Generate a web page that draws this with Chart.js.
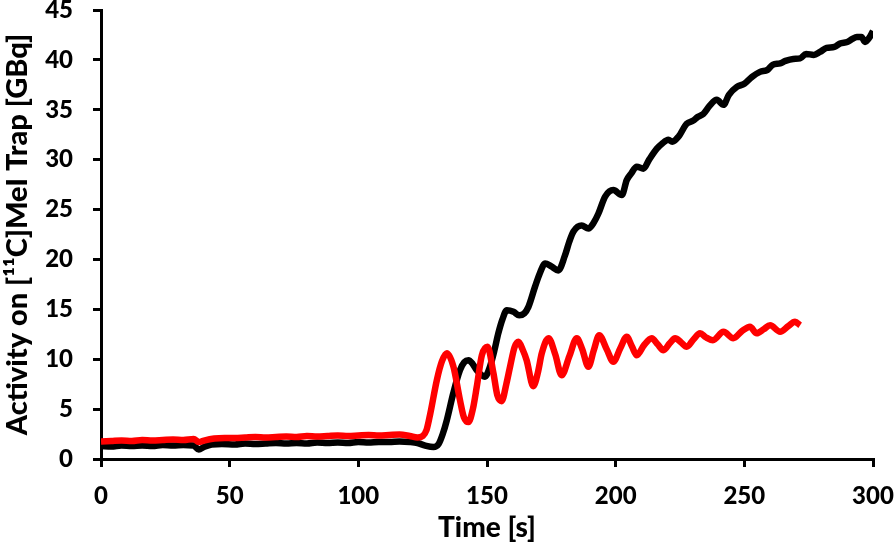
<!DOCTYPE html>
<html>
<head>
<meta charset="utf-8">
<script src="https://cdn.jsdelivr.net/npm/chart.js@4.4.1/dist/chart.umd.min.js"></script>
<style>
  html, body { margin: 0; padding: 0; background: #fff; }
  canvas { display: block; }
</style>
</head>
<body>
<canvas id="trapChart" width="895" height="545"></canvas>
<script>
// red trace - time [s] and activity [GBq]
const redTime = [0, 4, 8, 12, 16, 20, 24, 28, 32, 36, 38, 40, 44, 48, 52, 56, 60, 64, 68, 72, 76, 80, 84, 88, 92, 96, 100, 104, 108, 112, 116, 120, 123, 125, 126.5, 128, 130.5, 132.5, 134.4, 136.9, 139.5, 141, 142.8, 144.5, 146, 148, 150.2, 152.5, 154, 155.7, 157.5, 159, 160.7, 162.2, 163.8, 165.4, 168, 169.8, 171.3, 173.9, 176.5, 179, 182, 184.9, 187, 189.4, 191.5, 193.6, 196.5, 199.1, 201.8, 204.3, 206.3, 208.2, 211, 214, 216.3, 218.6, 221, 223.1, 225.4, 227.6, 230.3, 232.8, 235, 237.8, 241.9, 245.7, 249, 252.2, 254.8, 257.5, 260, 263.9, 267, 269.7, 271.7];
const redActivity = [1.75, 1.8, 1.85, 1.8, 1.9, 1.85, 1.9, 1.95, 1.9, 2.0, 1.7, 1.85, 2.05, 2.1, 2.1, 2.15, 2.2, 2.15, 2.2, 2.25, 2.2, 2.3, 2.25, 2.3, 2.35, 2.3, 2.35, 2.4, 2.35, 2.4, 2.45, 2.3, 2.15, 2.3, 2.9, 4.6, 7.9, 9.8, 10.6, 9.3, 5.9, 4.2, 3.7, 5.0, 7.2, 10.4, 11.25, 8.6, 6.4, 5.8, 7.5, 9.3, 11.2, 11.75, 11.0, 9.9, 7.3, 8.7, 10.6, 12.1, 10.5, 8.4, 10.3, 12.1, 11.0, 9.25, 10.9, 12.4, 11.0, 9.75, 11.1, 12.25, 11.3, 10.4, 11.4, 12.1, 11.5, 10.9, 11.6, 12.1, 11.7, 11.25, 12.0, 12.6, 12.2, 11.9, 12.75, 12.1, 12.8, 13.25, 12.6, 13.0, 13.4, 12.75, 13.3, 13.75, 13.4];

// black trace
const blackTime = [0, 4, 8, 12, 16, 20, 24, 28, 32, 36, 38, 40, 43, 47, 52, 56, 60, 64, 68, 72, 76, 80, 84, 88, 92, 96, 100, 104, 108, 112, 116, 120, 123, 126, 129.2, 131.2, 132.8, 134.4, 136.9, 139.5, 141.2, 142.8, 144.5, 146, 149.2, 151.2, 152.8, 154.4, 156, 157.7, 160.3, 162.5, 164.5, 166.1, 168.7, 170.5, 172.6, 175, 177.7, 180.3, 182, 183.6, 186.8, 189.4, 191.5, 193.3, 195.9, 199.1, 202.4, 204.3, 206, 208.2, 210.8, 213, 216, 218, 220.5, 222, 224.4, 227.6, 230, 232, 234.1, 236.5, 239.3, 241.9, 244, 247.1, 250, 253, 256.1, 259, 261, 263.9, 266, 269, 271.7, 274, 277, 279.4, 282, 285, 287.2, 290, 292, 293.7, 295.5, 296.9, 298.5, 300];
const blackActivity = [1.3, 1.25, 1.35, 1.3, 1.35, 1.3, 1.4, 1.35, 1.4, 1.35, 0.95, 1.2, 1.45, 1.5, 1.45, 1.55, 1.5, 1.55, 1.6, 1.55, 1.6, 1.55, 1.65, 1.6, 1.65, 1.6, 1.7, 1.65, 1.7, 1.7, 1.75, 1.7, 1.6, 1.35, 1.2, 1.5, 2.5, 3.9, 6.6, 8.9, 9.7, 9.9, 9.5, 8.9, 8.25, 9.3, 10.8, 12.6, 14.0, 14.9, 14.75, 14.4, 14.6, 15.25, 17.3, 18.6, 19.6, 19.3, 18.9, 20.4, 21.8, 22.8, 23.4, 23.1, 23.7, 24.6, 26.3, 26.95, 26.45, 27.95, 28.6, 29.3, 29.1, 30.0, 31.1, 31.6, 32.0, 31.8, 32.3, 33.6, 33.9, 34.3, 34.6, 35.4, 36.0, 35.5, 36.5, 37.3, 37.6, 38.3, 38.8, 39.0, 39.5, 39.65, 39.9, 40.1, 40.15, 40.6, 40.5, 40.8, 41.2, 41.3, 41.65, 41.8, 42.1, 42.3, 42.3, 41.8, 42.2, 42.9];

// axis settings
const xMin = 0, xMax = 300, xStep = 50;
const yMin = 0, yMax = 45, yStep = 5;

function toPoints(xs, ys) {
    return xs.map((x, i) => ({ x: x, y: ys[i] }));
}

const fontFamily = 'Lato, "Open Sans", sans-serif';

// keep the plot area where it is in the original (no auto padding for labels)
function noPadding(scale) {
    scale.paddingLeft = 0;
    scale.paddingRight = 0;
    scale.paddingTop = 0;
    scale.paddingBottom = 0;
}

new Chart(document.getElementById('trapChart'), {
    type: 'line',
    data: {
        datasets: [{
            label: 'Red',
            data: toPoints(redTime, redActivity),
            borderColor: '#ff0000',
            borderWidth: 6.5,
            pointRadius: 0,
            cubicInterpolationMode: 'monotone',
            fill: false
        }, {
            label: 'Black',
            data: toPoints(blackTime, blackActivity),
            borderColor: '#000000',
            borderWidth: 6.5,
            pointRadius: 0,
            cubicInterpolationMode: 'monotone',
            fill: false
        }]
    },
    options: {
        responsive: false,
        animation: false,
        layout: {
            padding: { left: 0, right: 22, top: 10, bottom: 0 }
        },
        plugins: {
            legend: { display: false },
            tooltip: { enabled: false }
        },
        scales: {
            x: {
                type: 'linear',
                min: xMin,
                max: xMax,
                afterFit: function(scale) { scale.height = 86; noPadding(scale); },
                grid: {
                    drawOnChartArea: false,
                    color: '#000',
                    lineWidth: 3,
                    tickLength: 8
                },
                border: { display: true, color: '#000', width: 3 },
                ticks: {
                    stepSize: xStep,
                    color: '#000',
                    padding: 15,
                    maxRotation: 0,
                    font: { family: fontFamily, size: 24, weight: 900 }
                },
                title: {
                    display: true,
                    text: 'Time [s]',
                    color: '#000',
                    padding: { top: 0, bottom: 0 },
                    font: { family: fontFamily, size: 28, weight: 900 }
                }
            },
            y: {
                min: yMin,
                max: yMax,
                afterFit: function(scale) { scale.width = 101; noPadding(scale); },
                grid: {
                    drawOnChartArea: false,
                    color: '#000',
                    lineWidth: 3,
                    tickLength: 8
                },
                border: { display: true, color: '#000', width: 3 },
                ticks: {
                    stepSize: yStep,
                    color: '#000',
                    padding: 20,
                    font: { family: fontFamily, size: 24, weight: 900 }
                },
                title: {
                    display: true,
                    text: 'Activity on [\u00B9\u00B9C]MeI Trap [GBq]',
                    color: '#000',
                    padding: { top: 0, bottom: 0 },
                    font: { family: fontFamily, size: 29, weight: 900 }
                }
            }
        }
    }
});
</script>
</body>
</html>
